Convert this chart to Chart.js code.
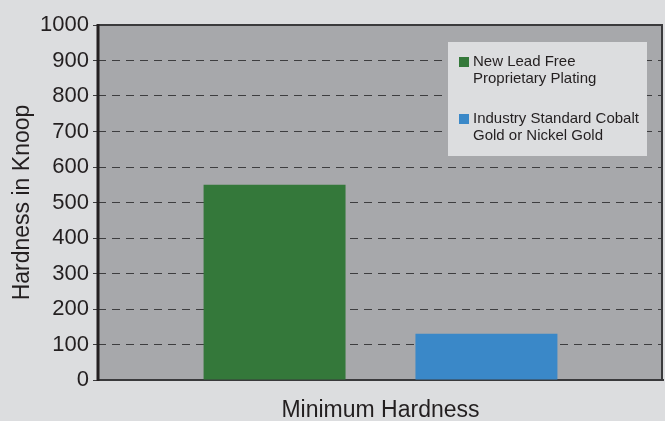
<!DOCTYPE html>
<html>
<head>
<meta charset="utf-8">
<script src="https://cdn.jsdelivr.net/npm/chart.js@4.4.0/dist/chart.umd.min.js"></script>
<style>
  html, body { margin: 0; padding: 0; background: #dcdddf; }
  #wrap { width: 665px; height: 421px; }
</style>
</head>
<body>
<div id="wrap"><canvas id="hardness"></canvas></div>
<script>
const categories = ['Minimum Hardness'];
const seriesNames = [
  ['New Lead Free', 'Proprietary Plating'],
  ['Industry Standard Cobalt', 'Gold or Nickel Gold']
];
const leadFree = [550];
const cobaltGold = [130];
const yMin = 0, yMax = 1000, yStep = 100;

const ink = '#231f20';
const font = 'Liberation Sans, Arial, Helvetica, sans-serif';

// gray plot background
const plotBg = {
  id: 'plotBg',
  beforeDraw(chart) {
    const { ctx, chartArea: a } = chart;
    ctx.save();
    ctx.fillStyle = '#a7a8ab';
    ctx.fillRect(a.left, a.top, a.right - a.left, a.bottom - a.top);
    ctx.restore();
  }
};

// frame around plot + legend box inside it
const frameLegend = {
  id: 'frameLegend',
  afterDraw(chart) {
    const { ctx, chartArea: a } = chart;
    ctx.save();
    ctx.strokeStyle = '#3a3a3c';
    ctx.lineWidth = 2;
    ctx.beginPath();
    ctx.moveTo(a.left, a.top);
    ctx.lineTo(a.right - 1, a.top);
    ctx.lineTo(a.right - 1, a.bottom);
    ctx.stroke();
    ctx.strokeStyle = ink;
    ctx.lineWidth = 3;
    ctx.beginPath();
    ctx.moveTo(a.left, a.top - 1);
    ctx.lineTo(a.left, a.bottom + 1);
    ctx.stroke();

    // legend
    const bx = a.right - 215, by = a.top + 17, bw = 199, bh = 114;
    ctx.fillStyle = '#dcdddf';
    ctx.fillRect(bx, by, bw, bh);
    ctx.font = '15px ' + font;
    ctx.textBaseline = 'middle';
    chart.data.datasets.forEach((ds, i) => {
      const y0 = by + 20 + i * 57;
      ctx.fillStyle = ds.backgroundColor;
      ctx.fillRect(bx + 11, y0 - 5, 10, 10);
      ctx.fillStyle = ink;
      ds.label.forEach((line, j) => ctx.fillText(line, bx + 25, y0 + j * 17));
    });
    ctx.restore();
  }
};

new Chart(document.getElementById('hardness'), {
  type: 'bar',
  data: {
    labels: categories,
    datasets: [
      { label: seriesNames[0], data: leadFree, backgroundColor: '#34783a' },
      { label: seriesNames[1], data: cobaltGold, backgroundColor: '#3a88c8' }
    ]
  },
  options: {
    responsive: true,
    maintainAspectRatio: false,
    animation: false,
    categoryPercentage: 0.75,
    barPercentage: 0.67,
    layout: { padding: { top: 25, right: 2, left: 0, bottom: 0 } },
    plugins: { legend: { display: false }, tooltip: { enabled: false } },
    scales: {
      x: {
        grid: { display: false },
        border: { display: true, color: '#3a3a3c', width: 2 },
        ticks: { color: ink, font: { family: font, size: 23 }, padding: 9 },
        afterFit(s) { s.height = 41; }
      },
      y: {
        min: yMin,
        max: yMax,
        ticks: {
          stepSize: yStep,
          color: ink,
          font: { family: font, size: 22 },
          padding: 4,
          callback: v => String(v)
        },
        grid: {
          color: '#3d3d3f',
          lineWidth: 1,
          tickLength: 5,
          tickColor: '#3d3d3f',
          drawOnChartArea: true
        },
        border: { display: false, dash: [8, 6] },
        title: {
          display: true,
          text: 'Hardness in Knoop',
          color: ink,
          font: { family: font, size: 23 },
          padding: { top: 9, bottom: 0 }
        },
        afterFit(s) { s.width = 98; }
      }
    }
  },
  plugins: [plotBg, frameLegend]
});
</script>
</body>
</html>
